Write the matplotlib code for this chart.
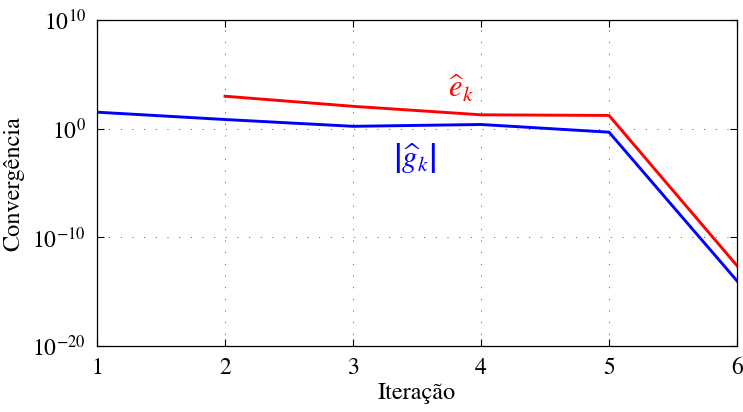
import matplotlib
matplotlib.use("Agg")
import matplotlib.pyplot as plt
import numpy as np

plt.rcParams['font.family'] = 'STIXGeneral'
plt.rcParams['mathtext.fontset'] = 'stix'

# valores
iter_g = [1, 2, 3, 4, 5, 6]
g_k = [34.0, 7.2, 1.7, 2.5, 0.49, 1.0e-14]
iter_e = [2, 3, 4, 5, 6]
e_k = [1000.0, 118.0, 19.5, 17.0, 2.5e-13]

fig = plt.figure(figsize=(7.43, 4.12), dpi=100)
ax = fig.add_axes([0.1306, 0.160, 0.8614, 0.791])

ax.semilogy(iter_g, g_k, '-', c='blue', lw=2.1)
ax.semilogy(iter_e, e_k, '-', c='red', lw=2.1)

ax.set_xlim(1, 6)
ax.set_ylim(1e-20, 1e10)
ax.set_yticks([1e-20, 1e-10, 1e0, 1e10])
ax.yaxis.set_minor_locator(matplotlib.ticker.NullLocator())
ax.set_xticks([1, 2, 3, 4, 5, 6])

ax.grid(True, color='0.3', ls=(0, (1, 11)), lw=0.7)
ax.tick_params(direction='in', top=True, right=True, length=5, width=0.8,
               labelsize=17, pad=8)
for s in ax.spines.values():
    s.set_linewidth(0.9)

ax.set_xlabel(u'Iteração', fontsize=17.5, labelpad=3)
ax.set_ylabel(u'Convergência', fontsize=17.5, labelpad=6)

ax.text(3.84, 10**3.6, r'$\widehat{e}_k$', color='red', fontsize=22,
        ha='center', va='center')
ax.text(3.48, 10**-2.7, r'$\left|\widehat{g}_k\right|$', color='blue',
        fontsize=22, ha='center', va='center')

fig.savefig('out.png')
